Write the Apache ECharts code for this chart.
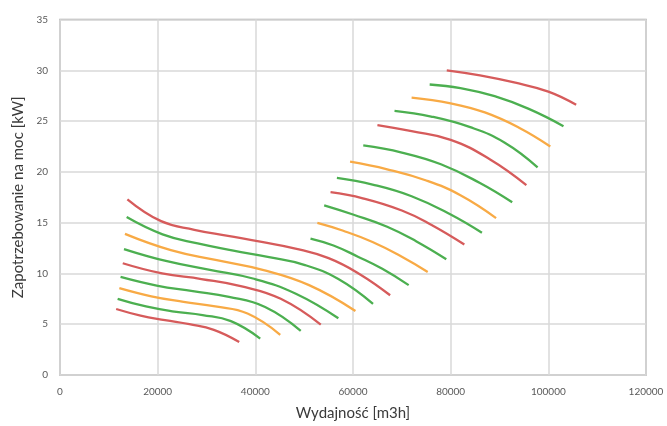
<!DOCTYPE html>
<html>
<head>
<meta charset="utf-8">
<script src="https://cdn.jsdelivr.net/npm/echarts@6/dist/echarts.min.js"></script>
<style>
  html, body { margin: 0; padding: 0; background: #ffffff; }
  #chart { width: 667px; height: 426px; }
</style>
</head>
<body>
<div id="chart"></div>
<script>
// Axis settings
const xTicks = [0, 20000, 40000, 60000, 80000, 100000, 120000];
const yTicks = [0, 5, 10, 15, 20, 25, 30, 35];
const xTitle = 'Wydajność [m3h]';
const yTitle = 'Zapotrzebowanie na moc [kW]';

// Lower group of curves (bottom to top)
const low1 = [[11500, 6.5], [16500, 5.85], [21500, 5.4], [26500, 5.0], [31500, 4.45], [36700, 3.25]];
const low2 = [[11800, 7.5], [17600, 6.75], [23400, 6.25], [29200, 5.9], [35000, 5.3], [41000, 3.58]];
const low3 = [[12150, 8.55], [18700, 7.75], [25300, 7.2], [31800, 6.75], [38400, 6.05], [45100, 3.95]];
const low4 = [[12400, 9.65], [19800, 8.8], [27200, 8.25], [34600, 7.7], [42000, 6.7], [49300, 4.35]];
const low5 = [[12850, 11.0], [20900, 10.0], [28950, 9.45], [37000, 8.75], [45200, 7.5], [53400, 4.95]];
const low6 = [[13100, 12.4], [21900, 11.2], [30700, 10.35], [39500, 9.5], [48300, 8.0], [57000, 5.58]];
const low7 = [[13300, 13.9], [22700, 12.3], [32100, 11.3], [41500, 10.35], [51000, 8.85], [60500, 6.3]];
const low8 = [[13650, 15.55], [21000, 13.85], [28200, 12.95], [35500, 12.25], [42800, 11.6], [50000, 10.85], [57000, 9.45], [64100, 7.0]];
const low9 = [[13800, 17.3], [20700, 15.15], [27500, 14.3], [34400, 13.7], [41300, 13.1], [48200, 12.45], [55000, 11.5], [61300, 9.95], [67600, 7.85]];

// Upper-right group of curves (bottom to top)
const up1 = [[51300, 13.43], [56000, 12.75], [61000, 11.65], [66000, 10.45], [71400, 8.85]];
const up2 = [[52700, 14.97], [58000, 14.2], [64000, 13.1], [70000, 11.65], [75300, 10.15]];
const up3 = [[54100, 16.7], [60000, 15.8], [67000, 14.6], [73000, 13.15], [79100, 11.4]];
const up4 = [[55400, 18.0], [62000, 17.4], [70000, 16.2], [76000, 14.8], [82800, 12.85]];
const up5 = [[56700, 19.4], [64000, 18.75], [72000, 17.6], [80000, 15.8], [86400, 14.0]];
const up6 = [[59400, 21.0], [67000, 20.25], [75000, 19.15], [82000, 17.7], [89300, 15.45]];
const up7 = [[62100, 22.6], [70000, 21.9], [78000, 20.75], [86000, 18.9], [92600, 17.0]];
const up8 = [[65000, 24.6], [72000, 24.0], [80000, 23.15], [88000, 21.25], [95500, 18.7]];
const up9 = [[68500, 26.0], [76000, 25.45], [84000, 24.4], [91000, 22.9], [97800, 20.45]];
const up10 = [[72000, 27.3], [80000, 26.75], [87000, 25.85], [94000, 24.35], [100400, 22.5]];
const up11 = [[75700, 28.6], [82000, 28.25], [89000, 27.45], [96000, 26.2], [103100, 24.5]];
const up12 = [[79200, 30.0], [86000, 29.5], [93000, 28.8], [100000, 27.9], [105700, 26.6]];

const curves = [low1, low2, low3, low4, low5, low6, low7, low8, low9,
                up1, up2, up3, up4, up5, up6, up7, up8, up9, up10, up11, up12];
const curveColors = ['r', 'g', 'o', 'g', 'r', 'g', 'o', 'g', 'r',
                     'g', 'o', 'g', 'r', 'g', 'o', 'g', 'r', 'g', 'o', 'g', 'r'];
const palette = { r: '#d65b5b', g: '#4caf50', o: '#f8aa45' };

const chart = echarts.init(document.getElementById('chart'), null, { renderer: 'canvas' });
const font = 'Lato, "Liberation Sans", sans-serif';

chart.setOption({
  animation: false,
  backgroundColor: '#ffffff',
  grid: {
    left: 60, right: 21, top: 19.5, bottom: 50,
    show: true, borderColor: '#a6a6a6', borderWidth: 1.5, backgroundColor: 'transparent'
  },
  xAxis: {
    type: 'value',
    min: xTicks[0], max: xTicks[xTicks.length - 1], interval: xTicks[1] - xTicks[0],
    name: xTitle, nameLocation: 'middle', nameGap: 31,
    nameTextStyle: { fontFamily: font, fontSize: 15, color: '#3a3a3a' },
    axisLine: { show: false },
    axisTick: { show: false },
    axisLabel: { fontFamily: font, fontSize: 10, color: '#595959', margin: 12, formatter: v => String(v) },
    splitLine: { show: true, lineStyle: { color: '#d9d9d9', width: 1.5 } }
  },
  yAxis: {
    type: 'value',
    min: yTicks[0], max: yTicks[yTicks.length - 1], interval: yTicks[1] - yTicks[0],
    name: yTitle, nameLocation: 'middle', nameGap: 34,
    nameTextStyle: { fontFamily: font, fontSize: 15, color: '#3a3a3a' },
    axisLine: { show: false },
    axisTick: { show: false },
    axisLabel: { fontFamily: font, fontSize: 10, color: '#595959', margin: 12, formatter: v => String(v) },
    splitLine: { show: true, lineStyle: { color: '#d9d9d9', width: 1.5 } }
  },
  series: curves.map((c, i) => ({
    type: 'line',
    data: c,
    smooth: 0.45,
    showSymbol: false,
    symbol: 'none',
    lineStyle: { color: palette[curveColors[i]], width: 2.3 },
    silent: true
  }))
});
</script>
</body>
</html>
